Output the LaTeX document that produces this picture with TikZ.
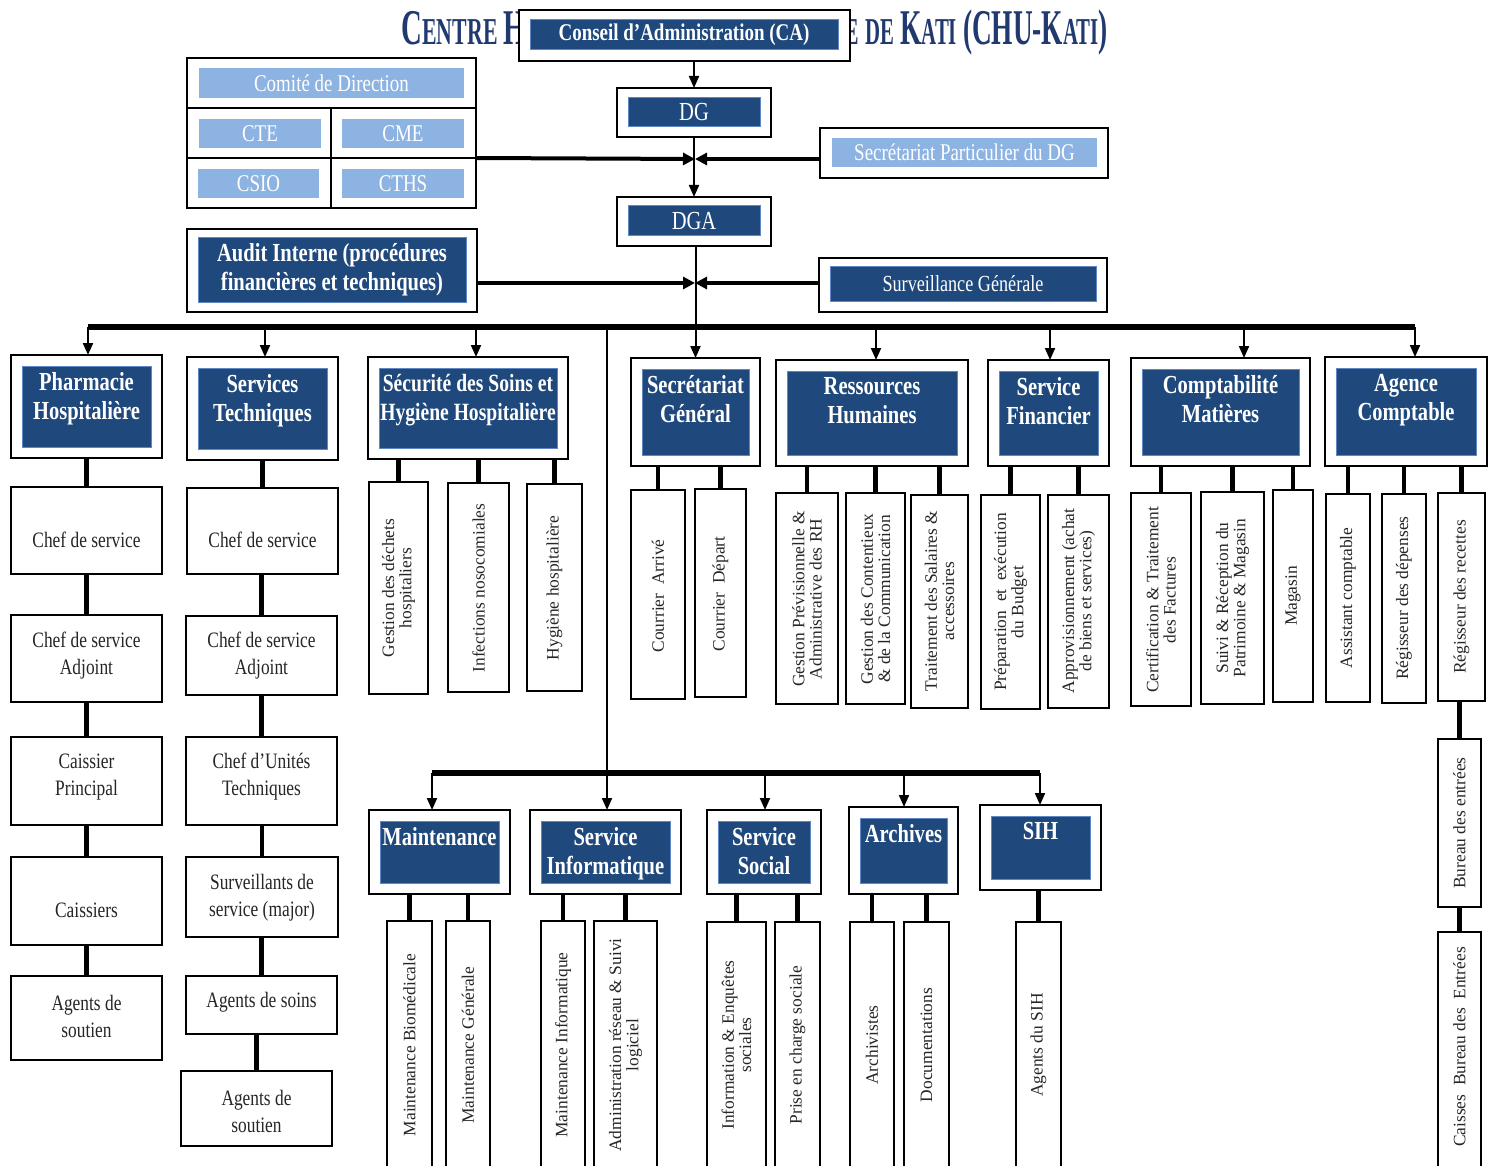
\documentclass[tikz,border=0pt]{standalone}
\usepackage{fontspec}
\setmainfont{Liberation Serif}
\newfontfamily\cf[FakeStretch=0.79]{Liberation Serif}
\newfontfamily\tf[FakeStretch=0.575]{Liberation Serif}
\usetikzlibrary{arrows.meta}
\definecolor{dkblue}{RGB}{31,73,125}
\definecolor{ttblue}{RGB}{32,58,112}
\definecolor{ltblue}{RGB}{141,179,226}
\definecolor{dkedge}{RGB}{95,135,195}
\newcommand\mkbox[6][obox]{\node[#1, minimum width={((#5)-(#3))*0.5pt}, minimum height={((#6)-(#4))*0.5pt}] (#2) at ({((#3)+(#5))/2},{((#4)+(#6))/2}) {};}
\newcommand\mkhdr[7][]{\mkbox{#2}{#3}{#4}{#5}{#6}\mkbox[dkfill]{#2i}{(#3)+11}{(#4)+11}{(#5)-11}{(#6)-11}\node[hdtext, anchor=north, #1] (#2t) at (#2i.north) {#7};}
\newcommand\mktbox[7]{\mkbox{#1}{#2}{#3}{#4}{#5}\node[txt] (#1t) at ({((#2)+(#4))/2},#6) {#7};}
\newcommand\mkrbox[7]{\mkbox{#1}{#2}{#3}{#4}{#5}\node[rot] (#1t) at ({((#2)+(#4))/2},#6) {#7};}
\newcommand\mkconn[2]{\draw[conn] (#2.north |- #1.south) -- (#2.north);}
\newcommand\TBg[1]{{\fontsize{25}{25}\selectfont #1}}
\newcommand\TSm[1]{{\fontsize{19}{19}\selectfont #1}}
\tikzset{
  obox/.style={draw=black, line width=0.9pt, fill=white, inner sep=0pt, outer sep=0pt},
  dkfill/.style={fill=dkblue, draw=dkedge, line width=0.5pt, inner sep=0pt, outer sep=0pt},
  ltfill/.style={fill=ltblue, draw=none, inner sep=0pt, outer sep=0pt},
  txt/.style={font=\cf\fontsize{11}{13.5}\selectfont, align=center, text=black!85, inner sep=1pt},
  hdtext/.style={font=\cf\bfseries\fontsize{13}{14.5}\selectfont, text=white, align=center, inner sep=3pt},
  wtxt/.style={font=\cf\fontsize{12}{14}\selectfont, text=white, align=center, inner sep=1pt},
  rot/.style={rotate=90, font=\fontsize{8.7}{8.6}\selectfont, align=center, text=black!85, inner sep=1pt},
  conn/.style={line width=2.2pt, black},
  bus/.style={line width=2.6pt, black},
  arr/.style={line width=1pt, black, -{Triangle[length=6pt,width=5pt]}},
  conv/.style={line width=2pt, black, -{Triangle[length=6pt,width=6pt]}}
}
\begin{document}
\begin{tikzpicture}[x=0.5pt,y=-0.5pt]
\clip (0,0) rectangle (1493,1166);
\fill[white] (0,0) rectangle (1493,1166);
% title
\node[anchor=base east, font=\tf\bfseries\fontsize{22}{22}\selectfont, text=ttblue, inner sep=0pt] (title) at (1108,45)
 {\TBg{C}\TSm{ENTRE} \TBg{H}\TSm{OSPITALIER}\hspace{7pt} \TBg{U}\TSm{NIVERSITAIRE} \scalebox{0.95}[1]{\TSm{DE} \TBg{K}\TSm{ATI} \TBg{(CHU-K}\TSm{ATI}\TBg{)}}};
% CA, DG, DGA
\mkbox{ca}{519}{10}{850}{61}
\mkbox[dkfill]{cai}{530}{20}{838}{50}
\node[font=\cf\bfseries\fontsize{12}{12}\selectfont, text=white] (cat) at (cai) {Conseil d’Administration (CA)};
\mkbox{dg}{617}{88}{771}{137}
\mkbox[dkfill]{dgi}{628}{98}{760}{127}
\node[wtxt, font=\cf\fontsize{13}{13}\selectfont] (dgt) at (dgi) {DG};
\mkbox{dga}{617}{197}{771}{246}
\mkbox[dkfill]{dgai}{628}{206}{760}{236}
\node[wtxt, font=\cf\fontsize{13}{13}\selectfont] (dgat) at (dgai) {DGA};
% Comite block
\mkbox{com}{187}{58}{476}{108}
\mkbox[ltfill]{comi}{199}{68}{464}{98}
\node[wtxt] (comt) at (comi) {Comité de Direction};
\mkbox{cte}{187}{108}{331}{158}
\mkbox{cme}{331}{108}{476}{158}
\mkbox{csio}{187}{158}{331}{208}
\mkbox{cths}{331}{158}{476}{208}
\mkbox[ltfill]{ctei}{199}{119}{321}{148}
\mkbox[ltfill]{cmei}{342}{119}{464}{148}
\mkbox[ltfill]{csioi}{198}{169}{319}{198}
\mkbox[ltfill]{cthsi}{342}{169}{464}{198}
\node[wtxt] (ctet) at (ctei) {CTE};
\node[wtxt] (cmet) at (cmei) {CME};
\node[wtxt] (csiot) at (csioi) {CSIO};
\node[wtxt] (cthst) at (cthsi) {CTHS};
% Secretariat particulier
\mkbox{spd}{820}{128}{1108}{178}
\mkbox[ltfill]{spdi}{832}{138}{1097}{167}
\node[wtxt] (spdt) at (spdi) {Secrétariat Particulier du DG};
% Audit / Surveillance
\mkbox{aud}{187}{229}{477}{312}
\mkbox[dkfill]{audi}{198}{238}{466}{302}
\node[hdtext] (audt) at (audi) {Audit Interne (procédures\\financières et techniques)};
\mkbox{sur}{819}{258}{1107}{312}
\mkbox[dkfill]{suri}{830}{267}{1096}{301}
\node[wtxt, font=\cf\fontsize{11.5}{12}\selectfont] (surt) at (suri) {Surveillance Générale};
% headers
\mkhdr{ph}{11}{355}{162}{458}{Pharmacie\\Hospitalière}
\mkhdr{st}{187}{357}{338}{460}{Services\\Techniques}
\mkhdr[font=\cf\bfseries\fontsize{12.4}{14.5}\selectfont]{ss}{368}{357}{568}{459}{Sécurité des Soins et\\Hygiène Hospitalière}
\mkhdr{sg}{631}{358}{760}{466}{Secrétariat\\Général}
\mkhdr{rh}{776}{360}{968}{466}{Ressources\\Humaines}
\mkhdr{sf}{988}{360}{1109}{466}{Service\\Financier}
\mkhdr{cm}{1131}{358}{1310}{466}{Comptabilité\\Matières}
\mkhdr{ac}{1325}{357}{1487}{466}{Agence\\Comptable}
\mkhdr{mn}{369}{810}{510}{894}{Maintenance}
\mkhdr{si}{530}{810}{681}{894}{Service\\Informatique}
\mkhdr{so}{707}{810}{821}{894}{Service\\Social}
\mkhdr{ar}{849}{807}{958}{894}{Archives}
\mkhdr{sih}{980}{805}{1101}{890}{SIH}
% left columns
\mktbox{ph1}{11}{487}{162}{574}{540}{Chef de service}
\mktbox{ph2}{11}{615}{162}{702}{656}{Chef de service\\Adjoint}
\mktbox{ph3}{11}{737}{162}{825}{777}{Caissier\\Principal}
\mktbox{ph4}{11}{857}{162}{945}{910}{Caissiers}
\mktbox{ph5}{11}{976}{162}{1060}{1016}{Agents de\\soutien}
\mktbox{st1}{187}{488}{338}{574}{540}{Chef de service}
\mktbox{st2}{186}{616}{337}{695}{656}{Chef de service\\Adjoint}
\mktbox{st3}{186}{737}{337}{825}{777}{Chef d’Unités\\Techniques}
\mktbox{st4}{186}{857}{338}{937}{898}{Surveillants de\\service (major)}
\mktbox{st5}{186}{976}{337}{1034}{1002}{Agents de soins}
\mktbox{st6}{181}{1071}{332}{1146}{1111}{Agents de\\soutien}
% rotated sub boxes, top row
\mkrbox{ss1}{369}{482}{428}{694}{588}{Gestion des déchets\\hospitaliers}
\mkrbox{ss2}{448}{483}{509}{692}{588}{Infections nosocomiales}
\mkrbox{ss3}{527}{484}{582}{691}{588}{Hygiène hospitalière}
\mkrbox{sg1}{631}{490}{685}{699}{596}{Courrier~~Arrivé}
\mkrbox{sg2}{695}{489}{746}{697}{594}{Courrier~~Départ}
\mkrbox{rh1}{776}{493}{838}{704}{599}{Gestion Prévisionnelle \&\\Administrative des RH}
\mkrbox{rh2}{846}{493}{905}{704}{599}{Gestion des Contentieux\\\& de la Communication}
\mkrbox{rh3}{911}{495}{968}{708}{601}{Traitement des Salaires \&\\accessoires}
\mkrbox{sf1}{981}{495}{1040}{709}{602}{Préparation~~et~~exécution\\du Budget}
\mkrbox{sf2}{1048}{495}{1109}{708}{601}{Approvisionnement (achat\\de biens et services)}
\mkrbox{cm1}{1131}{493}{1191}{706}{600}{Certification \& Traitement\\des Factures}
\mkrbox{cm2}{1201}{492}{1264}{704}{598}{Suivi \& Réception du\\Patrimoine \& Magasin}
\mkrbox{cm3}{1273}{490}{1313}{702}{596}{Magasin}
\mkrbox{ac1}{1326}{494}{1370}{702}{598}{Assistant comptable}
\mkrbox{ac2}{1382}{494}{1426}{703}{598}{Régisseur des dépenses}
\mkrbox{ac3}{1438}{493}{1485}{701}{597}{Régisseur des recettes}
\mkrbox{be1}{1438}{739}{1481}{907}{823}{Bureau des entrées}
\mkrbox{be2}{1438}{932}{1481}{1180}{1047}{Caisses~~Bureau des~~Entrées}
% bottom row
\mkrbox{mn1}{387}{921}{432}{1180}{1045}{Maintenance Biomédicale}
\mkrbox{mn2}{446}{921}{490}{1180}{1045}{Maintenance Générale}
\mkrbox{si1}{541}{921}{585}{1180}{1045}{Maintenance Informatique}
\mkrbox{si2}{594}{921}{657}{1180}{1045}{Administration réseau \& Suivi\\logiciel}
\mkrbox{so1}{707}{922}{766}{1180}{1045}{Information \& Enquêtes\\sociales}
\mkrbox{so2}{775}{922}{820}{1180}{1045}{Prise en charge sociale}
\mkrbox{ar1}{850}{922}{894}{1180}{1045}{Archivistes}
\mkrbox{ar2}{904}{922}{949}{1180}{1045}{Documentations}
\mkrbox{sih1}{1016}{922}{1061}{1180}{1045}{Agents du SIH}
% top connectors
\coordinate (j1) at (695,159);
\coordinate (j2) at (695,283);
\draw[arr] (dg.north |- ca.south) -- (dg.north);
\draw[arr] (dg.south) -- (dga.north);
\draw[arr] (dga.south -| sg.north) -- (sg.north);
\draw[conv] (cme.south east) -- (j1);
\draw[conv] (spd.west |- j1) -- (j1);
\draw[conv] (aud.east |- j2) -- (j2);
\draw[conv] (sur.west |- j2) -- (j2);
% main bus
\coordinate (bL) at (88,327);
\coordinate (bR) at (1415,327);
\draw[bus] (bL) -- (bR);
\foreach \n/\x in {ph/88, st/265, ss/476, rh/876, sf/1050, cm/1244, ac/1415} {
  \coordinate (b\n) at (\x,327);
  \draw[arr] (b\n) -- (b\n |- \n.north);
}
\coordinate (v1) at (607,327);
\draw[arr] (v1) -- (v1 |- si.north);
\coordinate (cL) at (432,773);
\coordinate (cR) at (1040,773);
\draw[bus] (cL) -- (cR);
\foreach \n/\x in {mn/432, so/765, ar/904, sih/1040} {
  \coordinate (c\n) at (\x,773);
  \draw[arr] (c\n) -- (c\n |- \n.north);
}
% sub connectors
\mkconn{ph}{ph1}\mkconn{ph1}{ph2}\mkconn{ph2}{ph3}\mkconn{ph3}{ph4}\mkconn{ph4}{ph5}
\mkconn{st}{st1}\mkconn{st1}{st2}\mkconn{st2}{st3}\mkconn{st3}{st4}\mkconn{st4}{st5}\mkconn{st5}{st6}
\mkconn{ss}{ss1}\mkconn{ss}{ss2}\mkconn{ss}{ss3}
\mkconn{sg}{sg1}\mkconn{sg}{sg2}
\mkconn{rh}{rh1}\mkconn{rh}{rh2}\mkconn{rh}{rh3}
\mkconn{sf}{sf1}\mkconn{sf}{sf2}
\mkconn{cm}{cm1}\mkconn{cm}{cm2}\mkconn{cm}{cm3}
\mkconn{ac}{ac1}\mkconn{ac}{ac2}\mkconn{ac}{ac3}
\mkconn{ac3}{be1}\mkconn{be1}{be2}
\mkconn{mn}{mn1}\mkconn{mn}{mn2}
\mkconn{si}{si1}\mkconn{si}{si2}
\mkconn{so}{so1}\mkconn{so}{so2}
\mkconn{ar}{ar1}\mkconn{ar}{ar2}
\mkconn{sih}{sih1}
\end{tikzpicture}
\end{document}
